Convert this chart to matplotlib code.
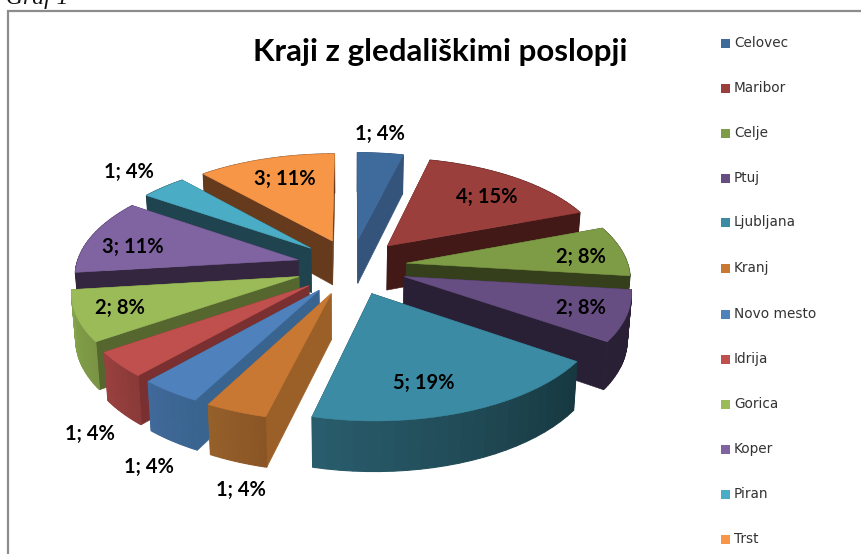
import numpy as np
import matplotlib
matplotlib.use("Agg")
import matplotlib.pyplot as plt
from matplotlib.patches import Polygon, Rectangle

# data
places = ["Celovec", "Maribor", "Celje", "Ptuj", "Ljubljana", "Kranj",
          "Novo mesto", "Idrija", "Gorica", "Koper", "Piran", "Trst"]
counts = [1, 4, 2, 2, 5, 1, 1, 1, 2, 3, 1, 3]
percents = [4, 15, 8, 8, 19, 4, 4, 4, 8, 11, 4, 11]

# colours per slice
top_colors = ["#3E6A9C", "#9B3F3C", "#7E9B45", "#674E82", "#3A8BA3", "#C87833",
              "#4F81BD", "#C0504D", "#9BBB59", "#8064A2", "#4BACC6", "#F79646"]
side_colors = ["#34547C", "#431917", "#353F1C", "#2A2036", "#1A3A44", "#9B6028",
               "#3A6490", "#7A3030", "#55662F", "#35263F", "#1F4450", "#663A1C"]
rim_colors = [("#34547C", "#34547C"), ("#431917", "#431917"), ("#353F1C", "#353F1C"),
              ("#2A2036", "#2A2036"), ("#173840", "#2A5E6E"), ("#8A5525", "#96602B"),
              ("#3A6490", "#41699A"), ("#8A3A38", "#9A4240"), ("#7A9444", "#86A64C"),
              ("#35263F", "#35263F"), ("#1F4450", "#1F4450"), ("#663A1C", "#663A1C")]

# pixel layout
label_xy = [(380, 134), (487, 197), (581, 257), (581, 308), (424, 383), (241, 490),
            (149, 467), (90, 434), (120, 308), (133, 247), (129, 172), (285, 179)]
legend_y = [43, 88, 133, 178, 222, 268, 314, 359, 404, 449, 494, 539]

CX, CY = 351.5, 266.5    # pie centre on screen
AX_X, AX_Y = 222, 104    # ground plane scale
PERSP = 0.125
EXPLODE_X, EXPLODE_Y = 0.25, 0.27
HEIGHT = 45


def project(x, y, drop=False):
    s = 1 / (1 + PERSP * y)
    px = CX + AX_X * x * s
    py = CY - AX_Y * y * s
    if drop:
        px = CX + (px - CX) * 0.985
        py = py + HEIGHT * (1 - 0.1 * y)
    return np.column_stack([px, py])


def mix(c1, c2, t):
    a = np.array(matplotlib.colors.to_rgb(c1))
    b = np.array(matplotlib.colors.to_rgb(c2))
    return tuple(a + (b - a) * t)


def face(ax, pts, color, z, lw=0.4):
    ax.add_patch(Polygon(pts, closed=True, facecolor=color, edgecolor=color,
                         linewidth=lw, zorder=z))


fig = plt.figure(figsize=(8.62, 5.54), dpi=100)
ax = fig.add_axes([0, 0, 1, 1])
ax.set_xlim(0, 862)
ax.set_ylim(554, 0)
ax.axis("off")

# frame of the pasted chart, no right or bottom edge visible
ax.plot([8.5, 8.5, 862], [554, 10.5, 10.5], color="#8C8C8C", lw=1.6, zorder=1,
        solid_joinstyle="miter")
ax.text(6, 4, "Graf 1", family="Liberation Serif", style="italic", fontsize=17,
        color="#111111", ha="left", va="baseline")

total = sum(counts)
edges = np.concatenate([[0], np.cumsum(counts)]) * 2 * np.pi / total
mids = (edges[:-1] + edges[1:]) / 2
order = np.argsort(-np.cos(mids))

z = 2
for i in order:
    a0, a1 = edges[i], edges[i + 1]
    ox, oy = EXPLODE_X * np.sin(mids[i]), EXPLODE_Y * np.cos(mids[i])
    th = np.linspace(a0, a1, 24)
    rx, ry = ox + np.sin(th), oy + np.cos(th)

    top = project(rx, ry)
    low = project(rx, ry, drop=True)
    apex_top = project(np.array([ox]), np.array([oy]))
    apex_low = project(np.array([ox]), np.array([oy]), drop=True)

    # rim quads, going away from the viewer first
    right, left = rim_colors[i]
    frac = (th[:-1] - th[0]) / (th[-1] - th[0])
    quads = []
    for k in range(len(th) - 1):
        pts = [top[k], top[k + 1], low[k + 1], low[k]]
        quads.append((np.cos((th[k] + th[k + 1]) / 2), pts, mix(right, left, frac[k])))
    for c, pts, col in quads:
        if c > 0:
            face(ax, pts, col, z, lw=0.8)
    z += 1

    # both radial walls
    face(ax, [apex_top[0], top[0], low[0], apex_low[0]], side_colors[i], z)
    face(ax, [apex_top[0], top[-1], low[-1], apex_low[0]], side_colors[i], z)
    z += 1

    for c, pts, col in quads:
        if c <= 0:
            face(ax, pts, col, z, lw=0.8)
    z += 1

    face(ax, np.vstack([apex_top, top]), top_colors[i], z)
    z += 1

for i, (xy, n, p) in enumerate(zip(label_xy, counts, percents)):
    ax.text(xy[0], xy[1], f"{n}; {p}%", family="Lato", weight="bold", fontsize=14.5,
            color="#000000", ha="center", va="center", zorder=100)

ax.text(440, 52, "Kraji z gledališkimi poslopji", family="Lato", weight="bold",
        fontsize=22.5, color="#000000", ha="center", va="center", zorder=100)

for name, y, col in zip(places, legend_y, top_colors):
    ax.add_patch(Rectangle((721, y - 4.5), 9, 9, facecolor=col, edgecolor="none", zorder=100))
    ax.text(734, y, name, family="DejaVu Sans", fontsize=9.8, color="#333333",
            ha="left", va="center", zorder=100)

fig.savefig("out.png", dpi=100)
